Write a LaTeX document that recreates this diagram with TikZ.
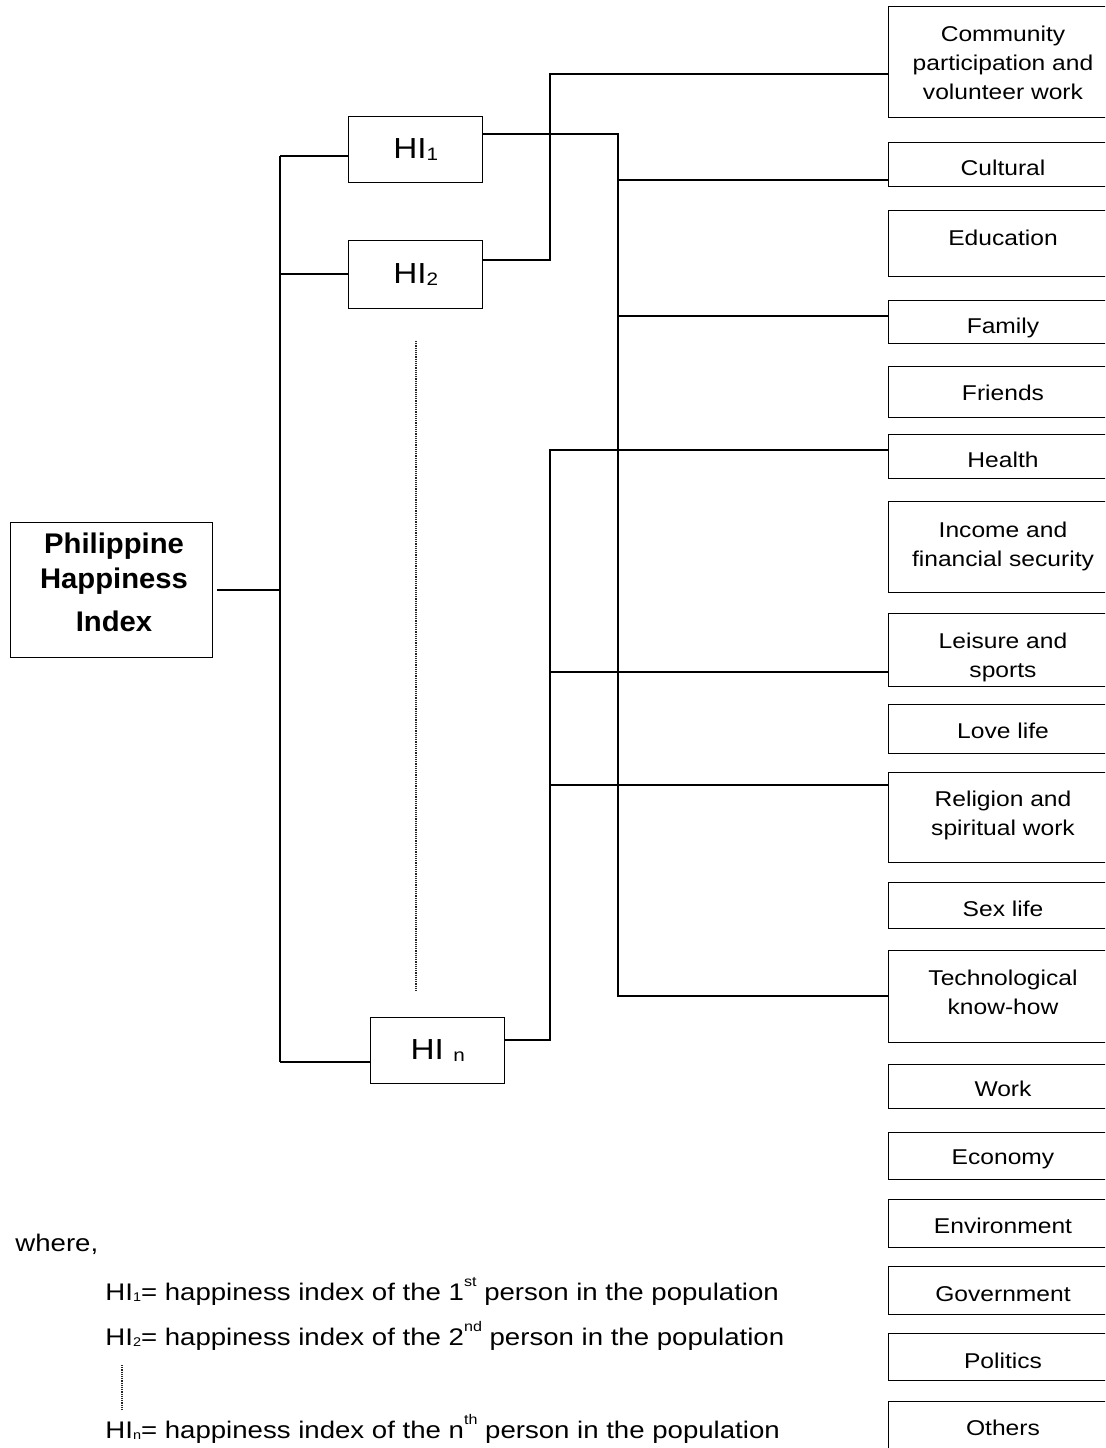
\documentclass[tikz,border=0pt]{standalone}
\usepackage{fontspec}
\setmainfont{Liberation Sans}[FakeStretch=1.15]
\newfontfamily\phifont{Liberation Sans}[FakeStretch=1.03]
\tikzset{
  wire/.style={line width=0.7pt, draw=black},
  rbox/.style={draw=black, line width=0.7pt, rectangle, inner sep=0pt, minimum width=115pt, anchor=north west},
  hibox/.style={draw=black, line width=0.7pt, rectangle, inner sep=0pt, minimum width=67pt, anchor=north west, font=\fontsize{14.5}{17}\selectfont},
  rtext/.style={align=center, inner sep=0pt, font=\fontsize{10.7}{14.5}\selectfont},
  dotline/.style={draw=black!85, line width=0.7pt, dash pattern=on 0.6pt off 0.5pt},
  legend/.style={anchor=base west, inner sep=0pt, font=\fontsize{12}{14}\selectfont},
}
\newcommand\hisub[1]{\raisebox{-1.2pt}{\fontsize{9}{9}\selectfont #1}}
\newcommand\lsub[1]{\raisebox{-0.9pt}{\fontsize{6.3}{6.3}\selectfont #1}}
\newcommand\lsup[1]{\raisebox{7pt}{\fontsize{7}{7}\selectfont #1}}
\begin{document}
\begin{tikzpicture}[x=0.5pt,y=-0.5pt]
\path[use as bounding box] (0,0) rectangle (1105,1448);
\clip (0,0) rectangle (1105,1448);
\fill[white] (0,0) rectangle (1105,1448);

% main box
\node[draw=black, line width=0.7pt, inner sep=0pt, minimum width=101pt, minimum height=67.5pt, anchor=north west] (phi) at (10,522) {};
\node[align=center, inner sep=0pt, font=\phifont\bfseries\fontsize{14.2}{17.5}\selectfont] (phit) at (114,582.7) {Philippine\\Happiness\\[4pt]Index};

% HI boxes
\node[hibox, minimum height=33pt] (hi1) at (348,116) {HI\hisub{1}};
\node[hibox, minimum height=34pt] (hi2) at (348,240) {HI\hisub{2}};
\node[hibox, minimum height=33pt] (hin) at (370,1017) {HI \hisub{n}};

% right boxes
\node[rbox, minimum height=55.5pt] (comm) at (888,6) {};
\node[rtext] at (1003,63) {Community\\participation and\\volunteer work};
\node[rbox, minimum height=22pt] (cult) at (888,142) {};
\node[rtext] at (1003,168) {Cultural};
\node[rbox, minimum height=33pt] (edu) at (888,210) {};
\node[rtext] at (1003,238) {Education};
\node[rbox, minimum height=21.5pt] (fam) at (888,300) {};
\node[rtext] at (1003,328) {Family};
\node[rbox, minimum height=25.5pt] (fri) at (888,366) {};
\node[rtext] at (1003,393) {Friends};
\node[rbox, minimum height=22pt] (hea) at (888,434) {};
\node[rtext] at (1003,460) {Health};
\node[rbox, minimum height=45.5pt] (inc) at (888,501) {};
\node[rtext] at (1003,546) {Income and\\financial security};
\node[rbox, minimum height=36.5pt] (lei) at (888,613) {};
\begin{scope}
\clip (888,613) rectangle (1118,686);
\node[rtext] at (1003,657.5) {Leisure and\\sports};
\end{scope}
\node[rbox, minimum height=24.5pt] (love) at (888,704) {};
\node[rtext] at (1003,731) {Love life};
\node[rbox, minimum height=45pt] (rel) at (888,772) {};
\node[rtext] at (1003,815.5) {Religion and\\spiritual work};
\node[rbox, minimum height=23pt] (sex) at (888,882) {};
\node[rtext] at (1003,909) {Sex life};
\node[rbox, minimum height=46pt] (tech) at (888,950) {};
\node[rtext] at (1003,992.5) {Technological\\know-how};
\node[rbox, minimum height=22pt] (work) at (888,1064) {};
\node[rtext] at (1003,1089) {Work};
\node[rbox, minimum height=23.5pt] (eco) at (888,1132) {};
\node[rtext] at (1003,1159) {Economy};
\node[rbox, minimum height=24pt] (env) at (888,1199) {};
\node[rtext] at (1003,1226) {Environment};
\node[rbox, minimum height=24pt] (gov) at (888,1266) {};
\node[rtext] at (1003,1294) {Government};
\node[rbox, minimum height=23.5pt] (pol) at (888,1333) {};
\node[rtext] at (1003,1361) {Politics};
\node[rbox, minimum height=30pt] (oth) at (888,1401) {};
\node[rtext] at (1003,1428) {Others};

% trunk from main box
\coordinate (t1) at (280,156);
\coordinate (t2) at (280,274);
\coordinate (tp) at (280,590);
\coordinate (tn) at (280,1062);
\draw[wire] (t1) -- (tn);
\draw[wire] (t1) -- (hi1.west |- t1);
\draw[wire] (t2) -- (hi2.west |- t2);
\draw[wire] ([xshift=2pt]phi.east |- tp) -- (tp);
\draw[wire] (tn) -- (hin.west |- tn);

% HI1 bus
\coordinate (a0) at (618,134);
\coordinate (a1) at (618,180);
\coordinate (a2) at (618,316);
\coordinate (a3) at (618,996);
\draw[wire] (hi1.east |- a0) -- (a0) -- (a3) -- (tech.west |- a3);
\draw[wire] (a1) -- (cult.west |- a1);
\draw[wire] (a2) -- (fam.west |- a2);

% HI2 bus
\coordinate (b0) at (550,260);
\coordinate (b1) at (550,74);
\draw[wire] (hi2.east |- b0) -- (b0) -- (b1) -- (comm.west |- b1);

% HIn bus
\coordinate (c0) at (550,1040);
\coordinate (c1) at (550,450);
\coordinate (c2) at (550,672);
\coordinate (c3) at (550,785);
\draw[wire] (hin.east |- c0) -- (c0) -- (c1) -- (hea.west |- c1);
\draw[wire] (c2) -- (lei.west |- c2);
\draw[wire] (c3) -- (rel.west |- c3);

% dotted continuation
\draw[dotline] (416,341) -- (416,991);

% legend
\node[legend] (where) at (15,1251) {where,};
\node[legend] (l1) at (105,1300) {HI\lsub{1}= happiness index of the 1\lsup{st} person in the population};
\node[legend] (l2) at (105,1345) {HI\lsub{2}= happiness index of the 2\lsup{nd} person in the population};
\node[legend] (ln) at (105,1438) {HI\lsub{n}= happiness index of the n\lsup{th} person in the population};
\draw[dotline] (122,1365) -- (122,1410);
\end{tikzpicture}
\end{document}
